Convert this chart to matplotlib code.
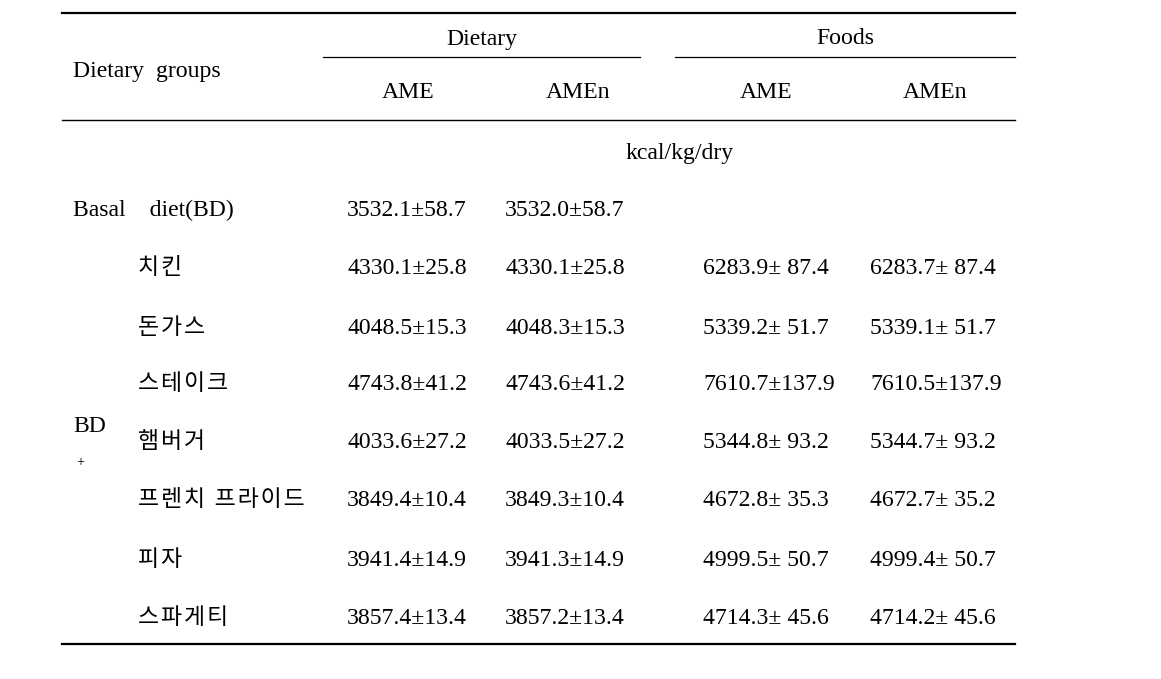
import matplotlib
matplotlib.use("Agg")
import matplotlib.pyplot as plt

plt.rcParams['font.family'] = ['Liberation Serif', 'Noto Sans CJK KR']

groups = ["치킨", "돈가스", "스테이크", "햄버거", "프렌치 프라이드", "피자", "스파게티"]
basal_label = "Basal    diet(BD)"
basal_values = ["3532.1±58.7", "3532.0±58.7"]
diet_ame = ["4330.1±25.8", "4048.5±15.3", "4743.8±41.2", "4033.6±27.2", "3849.4±10.4", "3941.4±14.9", "3857.4±13.4"]
diet_amen = ["4330.1±25.8", "4048.3±15.3", "4743.6±41.2", "4033.5±27.2", "3849.3±10.4", "3941.3±14.9", "3857.2±13.4"]
food_ame = ["6283.9± 87.4", "5339.2± 51.7", "7610.7±137.9", "5344.8± 93.2", "4672.8± 35.3", "4999.5± 50.7", "4714.3± 45.6"]
food_amen = ["6283.7± 87.4", "5339.1± 51.7", "7610.5±137.9", "5344.7± 93.2", "4672.7± 35.2", "4999.4± 50.7", "4714.2± 45.6"]
header_groups = ["Dietary", "Foods"]
sub_headers = ["AME", "AMEn", "AME", "AMEn"]
unit_label = "kcal/kg/dry"

W, H = 1161, 679
fig = plt.figure(figsize=(W / 100, H / 100), dpi=100)
ax = fig.add_axes([0, 0, 1, 1])
ax.set_xlim(0, W)
ax.set_ylim(H, 0)
ax.axis('off')

fs = 17.1
kfs = 16.5
dy = 3
# rules
ax.plot([62, 1015], [13, 13], color='black', lw=1.6)
ax.plot([323, 640], [57, 57], color='black', lw=0.9)
ax.plot([675, 1015], [57, 57], color='black', lw=0.9)
ax.plot([62, 1015], [120, 120], color='black', lw=1.0)
ax.plot([62, 1015], [644, 644], color='black', lw=1.6)

ax.text(73, 68 + dy, "Dietary  groups", fontsize=fs, ha='left', va='center')
for label, xc in zip(header_groups, [482, 845]):
    ax.text(xc, 36 + dy, label, fontsize=fs, ha='center', va='center')
for label, xc in zip(sub_headers, [408, 578, 766, 935]):
    ax.text(xc, 89 + dy, label, fontsize=fs, ha='center', va='center')
ax.text(680, 151 + dy, unit_label, fontsize=fs, ha='center', va='center')

ax.text(73, 207 + dy, basal_label, fontsize=fs, ha='left', va='center')
ax.text(347, 207 + dy, basal_values[0], fontsize=fs, ha='left', va='center')
ax.text(505, 207 + dy, basal_values[1], fontsize=fs, ha='left', va='center')

rows_y = [266, 325, 382, 440, 498, 557, 615]
for i, y in enumerate(rows_y):
    ax.text(138, y + 3, "\u200a".join(groups[i]), fontsize=kfs, ha='left', va='center',
            fontweight='light')
    ax.text(347, y + dy, diet_ame[i], fontsize=fs, ha='left', va='center')
    ax.text(505, y + dy, diet_amen[i], fontsize=fs, ha='left', va='center')
    ax.text(703, y + dy, food_ame[i], fontsize=fs, ha='left', va='center')
    ax.text(870, y + dy, food_amen[i], fontsize=fs, ha='left', va='center')

ax.text(73, 423 + dy, "BD", fontsize=fs, ha='left', va='center')
ax.text(76, 463, "+", fontsize=10, ha='left', va='center')

fig.savefig("out.png", dpi=100)
